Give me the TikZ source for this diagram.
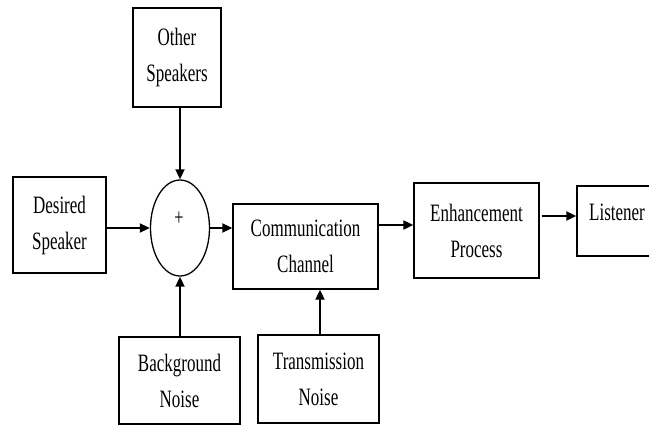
\documentclass[tikz,border=0pt]{standalone}
\usepackage{fontspec}
\setmainfont[FakeStretch=0.68]{Liberation Serif}
\usetikzlibrary{arrows.meta,calc,shapes.geometric}
\begin{document}
\begin{tikzpicture}[x=1pt,y=-1pt,
  blk/.style={draw,line width=1.3pt,inner sep=0pt,align=center,font=\fontsize{25}{36}\selectfont},
  arr/.style={line width=1.8pt,-{Triangle[length=10pt,width=9pt]}}]
\useasboundingbox (0,0) rectangle (649,440);
\clip (0,0) rectangle (649,440);
\node[blk,minimum width=88pt,minimum height=99pt] (other) at (177,57.5) {Other\\Speakers};
\node[blk,minimum width=93pt,minimum height=96pt] (desired) at (59.5,225) {Desired\\Speaker};
\node[draw,line width=1.3pt,ellipse,minimum width=59pt,minimum height=96pt,inner sep=0pt] (sum) at (180,228) {};
\node[font=\fontsize{24}{24}\selectfont] (plus) at (179,219) {+};
\node[blk,minimum width=145pt,minimum height=85pt] (comm) at (305.5,246.5) {Communication\\Channel};
\node[blk,minimum width=125pt,minimum height=95pt] (enh) at (476.5,230.5) {Enhancement\\Process};
\node[blk,minimum width=80pt,minimum height=70pt] (lis) at (617,221) {\raisebox{18pt}{Listener}};
\node[blk,minimum width=121pt,minimum height=87pt] (bg) at (179.5,380.5) {Background\\Noise};
\node[blk,minimum width=121pt,minimum height=88pt] (tx) at (318.5,379) {Transmission\\Noise};
\coordinate (y225) at (0,225);
\coordinate (y216) at (0,216);
\coordinate (x320) at (320,0);
\draw[arr] (other.south -| sum.north) -- (sum.north);
\draw[arr] (desired.east |- sum.east) -- (sum.west);
\draw[arr] (sum.east) -- (sum.east -| comm.west);
\draw[arr] (bg.north -| sum.south) -- (sum.south);
\draw[arr] (tx.north -| x320) -- (comm.south -| x320);
\draw[arr] (comm.east |- y225) -- (enh.west |- y225);
\draw[arr] ($(enh.east |- y216)+(2,0)$) -- (lis.west |- y216);
\end{tikzpicture}
\end{document}
